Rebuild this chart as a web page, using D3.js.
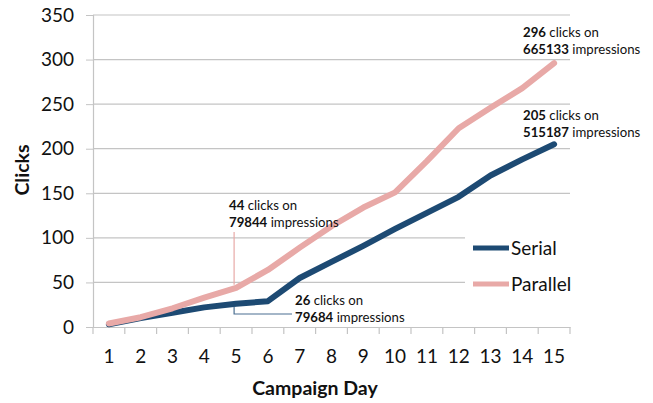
<!DOCTYPE html>
<html><head><meta charset="utf-8">
<script src="https://cdn.jsdelivr.net/npm/d3@7"></script>
<style>
html,body{margin:0;padding:0;background:#fff;}
svg{display:block;font-family:Lato, "Open Sans", sans-serif;}
</style></head>
<body><svg id="c" width="653" height="403"></svg>
<script>
const days = [1,2,3,4,5,6,7,8,9,10,11,12,13,14,15];
const serial = [3, 10, 16, 22, 26, 29, 55, 73, 91, 110, 128, 146, 170, 188, 205];
const parallel = [4, 11, 21, 33, 44, 64, 89, 113, 134, 151, 186, 223, 246, 268, 296];
const yTicks = [0,50,100,150,200,250,300,350];
const seriesNames = ["Serial","Parallel"];
const annotations = [
  {series:"Parallel", day:5, clicks:"44", imps:"79844"},
  {series:"Serial", day:5, clicks:"26", imps:"79684"},
  {series:"Parallel", day:15, clicks:"296", imps:"665133"},
  {series:"Serial", day:15, clicks:"205", imps:"515187"}
];

const colors = {Serial:"#1d4a73", Parallel:"#e8a9a7"};
const svg = d3.select("#c");
const L=93, R=570, T=15, B=327;
const x = d3.scaleBand().domain(days).range([L,R]);
const y = d3.scaleLinear().domain([0,350]).range([B,T]);
const cx = d => x(d)+x.bandwidth()/2;

// gridlines
svg.append("g").selectAll("line").data(yTicks.filter(v=>v>0)).join("line")
  .attr("x1",L).attr("x2",R).attr("y1",d=>y(d)).attr("y2",d=>y(d))
  .attr("stroke","#c4c4c4").attr("stroke-width",1.2);

// y axis
const ya = svg.append("g").attr("transform",`translate(${L},0)`)
  .call(d3.axisLeft(y).tickValues(yTicks).tickSize(7).tickPadding(12));
ya.select(".domain").attr("stroke","#c4c4c4").attr("stroke-width",1.2);
ya.selectAll(".tick line").attr("stroke","#c4c4c4");
ya.selectAll("text").attr("font-size",19).attr("fill","#111").attr("font-family","Lato");

// x axis
const xa = svg.append("g").attr("transform",`translate(0,${B})`)
  .call(d3.axisBottom(x).tickSize(0).tickPadding(23));
xa.select(".domain").attr("stroke","#c4c4c4").attr("stroke-width",1.2);
xa.selectAll("text").attr("font-size",19).attr("fill","#111").attr("font-family","Lato");
// boundary ticks
svg.append("g").selectAll("line").data(d3.range(days.length+1)).join("line")
  .attr("x1",i=>L+i*x.step()).attr("x2",i=>L+i*x.step())
  .attr("y1",B).attr("y2",B+7).attr("stroke","#c4c4c4").attr("stroke-width",1.2);

// axis titles
svg.append("text").attr("x",315).attr("y",395).attr("text-anchor","middle")
  .attr("font-size",19.5).attr("font-weight","bold").attr("fill","#111").text("Campaign Day");
svg.append("text").attr("transform","translate(29,170) rotate(-90)").attr("text-anchor","middle")
  .attr("font-size",19.5).attr("font-weight","bold").attr("fill","#111").text("Clicks");

// legend box (covers gridlines)
svg.append("rect").attr("x",465).attr("y",205).attr("width",130).attr("height",95).attr("fill","#fff");

// lines
const data = {Serial:serial, Parallel:parallel};
const line = d3.line().x((d,i)=>cx(days[i])).y(d=>y(d));
seriesNames.forEach(s=>{
  svg.append("path").datum(data[s]).attr("d",line).attr("fill","none")
    .attr("stroke",colors[s]).attr("stroke-width",6).attr("stroke-linejoin","round").attr("stroke-linecap","round");
});

// legend
seriesNames.forEach((s,i)=>{
  const ly = 248 + i*36;
  svg.append("line").attr("x1",473).attr("x2",509).attr("y1",ly).attr("y2",ly)
    .attr("stroke",colors[s]).attr("stroke-width",5);
  svg.append("text").attr("x",511).attr("y",ly+7).attr("font-size",19).attr("fill","#111").text(s);
});

// annotations
function ann(a, tx, ty){
  const t = svg.append("text").attr("x",tx).attr("y",ty).attr("font-size",13.2).attr("fill","#111");
  t.append("tspan").attr("font-weight","bold").text(a.clicks);
  t.append("tspan").text(" clicks on");
  const t2 = svg.append("text").attr("x",tx).attr("y",ty+16.5).attr("font-size",13.2).attr("fill","#111");
  t2.append("tspan").attr("font-weight","bold").text(a.imps);
  t2.append("tspan").text(" impressions");
}
const val = (a)=> data[a.series][days.indexOf(a.day)];
// 44 clicks
{
  const a = annotations[0]; const px = cx(a.day)-2, py = y(val(a));
  svg.append("line").attr("x1",px).attr("x2",px).attr("y1",232).attr("y2",py-3)
    .attr("stroke",colors.Parallel).attr("stroke-width",1.2);
  ann(a, 229, 210);
}
// 26 clicks
{
  const a = annotations[1]; const px = cx(a.day)-2, py = y(val(a));
  svg.append("path").attr("d",`M${px},${py+3}V314H292`).attr("fill","none")
    .attr("stroke","#4a6f91").attr("stroke-width",1.2);
  ann(a, 295, 305);
}
ann(annotations[2], 523, 37);
ann(annotations[3], 523, 120);
</script></body></html>
